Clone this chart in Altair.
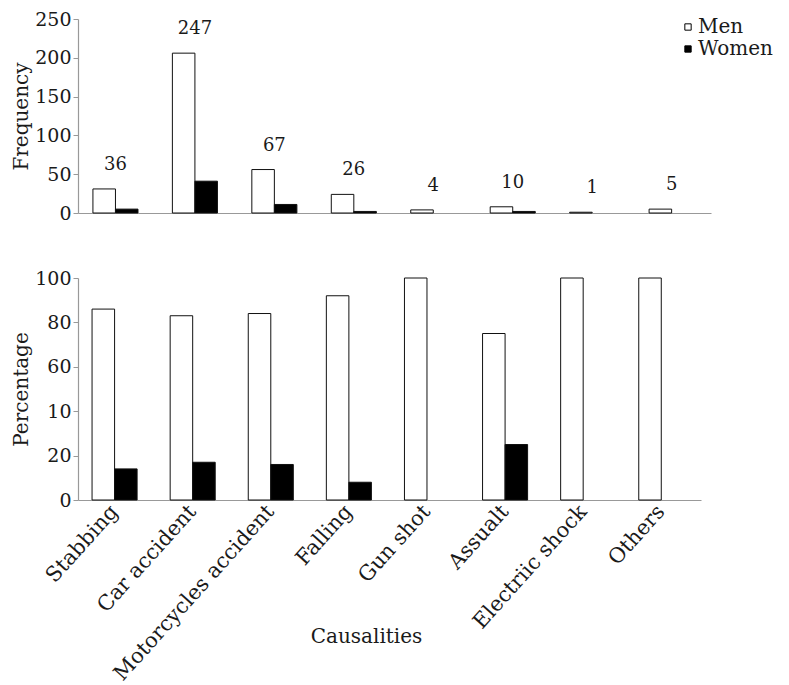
import altair as alt
import pandas as pd

causes = ["Stabbing", "Car accident", "Motorcycles accident", "Falling",
          "Gun shot", "Assualt", "Electriic shock", "Others"]
sexes = ["Men", "Women"]
freq_men = [31, 206, 56, 24, 4, 8, 1, 5]
freq_women = [5, 41, 11, 2, 0, 2, 0, 0]
totals = [36, 247, 67, 26, 4, 10, 1, 5]
pct_men = [86, 83, 84, 92, 100, 75, 100, 100]
pct_women = [14, 17, 16, 8, 0, 25, 0, 0]
freq_ticks = [0, 50, 100, 150, 200, 250]
pct_ticks = [0, 20, 40, 60, 80, 100]
pct_tick_labels = ["0", "20", "10", "60", "80", "100"]

FONT = "DejaVu Serif"
TXT = "#1a1a1a"
AX = "#999999"


def long_df(men, women):
    rows = []
    for c, m, w in zip(causes, men, women):
        if m > 0:
            rows.append({"cause": c, "sex": "Men", "value": m})
        if w > 0:
            rows.append({"cause": c, "sex": "Women", "value": w})
    return pd.DataFrame(rows)


freq_df = long_df(freq_men, freq_women)
pct_df = long_df(pct_men, pct_women)
label_df = pd.DataFrame({"cause": causes, "men": freq_men, "total": [str(t) for t in totals]})

fill_scale = alt.Scale(domain=sexes, range=["white", "black"])
off = alt.XOffset("sex:N", sort=sexes, scale=alt.Scale(domain=sexes))


def y_axis(values, title, expr=None):
    kw = dict(values=values, title=title, grid=False, labelOverlap=False,
              domainColor=AX, tickColor=AX, tickSize=5, domainWidth=1.2,
              labelFont=FONT, labelFontSize=19, labelColor=TXT, labelPadding=2,
              titleFont=FONT, titleFontSize=20, titleFontWeight="normal",
              titleColor=TXT, titlePadding=3)
    if expr:
        kw["labelExpr"] = expr
    return alt.Axis(**kw)


# ---------- top: frequency ----------
x_top = alt.Scale(domain=causes, paddingInner=0.433, paddingOuter=0.2, align=0.47)
y_top = alt.Scale(domain=[0, 250], nice=False)
bars_top = alt.Chart(freq_df).mark_bar(stroke="#111111", strokeWidth=1).encode(
    x=alt.X("cause:N", sort=causes, scale=x_top,
            axis=alt.Axis(labels=False, ticks=False, title=None, domainColor=AX, domainWidth=1.2)),
    xOffset=off,
    y=alt.Y("value:Q", scale=y_top, axis=y_axis(freq_ticks, "Frequency")),
    fill=alt.Fill("sex:N", scale=fill_scale,
                  legend=alt.Legend(title=None, orient="none", legendX=600, legendY=-2,
                                    symbolType="square", symbolSize=40,
                                    symbolStrokeColor="black", symbolStrokeWidth=1,
                                    labelFont=FONT, labelFontSize=20, labelColor=TXT,
                                    labelOffset=0, rowPadding=2)),
)
text_top = alt.Chart(label_df).mark_text(dy=-24, font=FONT, fontSize=18, color=TXT).encode(
    x=alt.X("cause:N", sort=causes, scale=x_top),
    y=alt.Y("men:Q", scale=y_top, axis=y_axis(freq_ticks, "Frequency")),
    text="total:N",
)
top = alt.layer(bars_top, text_top).properties(width=633, height=194)

# ---------- bottom: percentage ----------
x_bot = alt.Scale(domain=causes, paddingInner=0.423, paddingOuter=0.2, align=0.45)
label_expr = "{" + ",".join(f"'{v}':'{l}'" for v, l in zip(pct_ticks, pct_tick_labels)) + "}[datum.value]"
bottom = alt.Chart(pct_df).mark_bar(stroke="#111111", strokeWidth=1).encode(
    x=alt.X("cause:N", sort=causes, scale=x_bot,
            axis=alt.Axis(ticks=False, title="Causalities", domainColor=AX, domainWidth=1.2,
                          labelAngle=-48, labelLimit=0, labelFont=FONT, labelFontSize=21,
                          labelColor=TXT, labelPadding=8, titleFont=FONT, titleFontSize=20,
                          titleFontWeight="normal", titleColor=TXT,
                          titleX=288, titleY=136, titleBaseline="middle")),
    xOffset=off,
    y=alt.Y("value:Q", scale=alt.Scale(domain=[0, 100], nice=False),
            axis=y_axis(pct_ticks, "Percentage", label_expr)),
    fill=alt.Fill("sex:N", scale=fill_scale, legend=None),
).properties(width=623, height=222)

chart = alt.vconcat(top, bottom, spacing=46).properties(
    padding={"left": 3, "top": 2, "right": 5, "bottom": 0}
).configure_view(stroke=None).resolve_scale(x="independent")

chart.save("out.html", embed_options={"renderer": "svg", "actions": False})
